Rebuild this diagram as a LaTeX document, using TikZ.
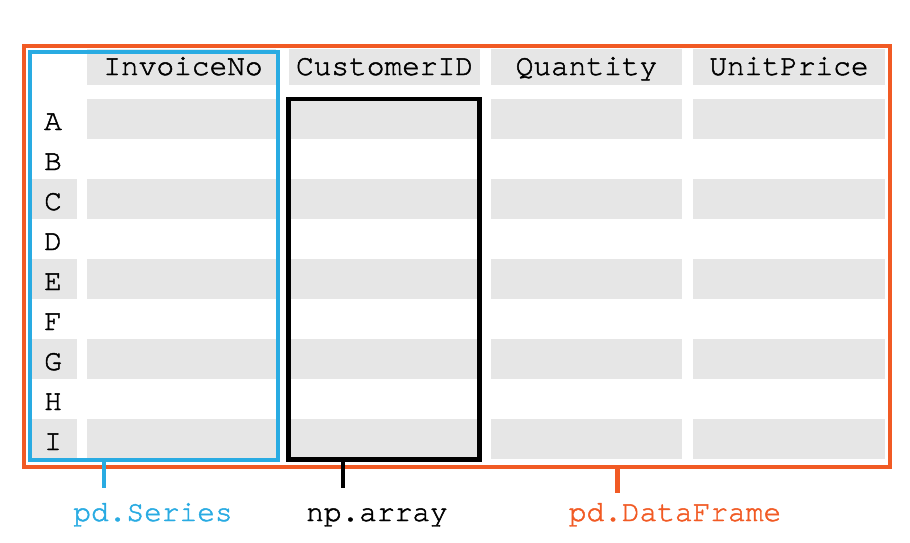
\documentclass[tikz,border=0pt]{standalone}
\usepackage{fontspec}
\newfontfamily\courfont[FakeBold=1.6]{TeX Gyre Cursor}
\definecolor{serblue}{RGB}{41,171,226}
\definecolor{dforange}{RGB}{241,90,36}
\definecolor{cellgray}{RGB}{230,230,230}
\begin{document}
\begin{tikzpicture}[x=1pt,y=-1pt,
  txt/.style={font=\courfont\fontsize{29.5}{34}\selectfont, inner sep=0pt, anchor=base},
  frame/.style={inner sep=0pt, fill=none},
  tick/.style={line width=4.5pt}]
\useasboundingbox (0,0) rectangle (910,543);
% gray cells
\foreach \xa/\xb in {87/276, 289/480, 491/682, 693/885} {
  \fill[cellgray] (\xa,49) rectangle (\xb,85);
  \foreach \r in {0,2,4,6,8}
    \fill[cellgray] (\xa,{99+40*\r}) rectangle (\xb,{139+40*\r});
}
\foreach \r in {2,4,6,8}
  \fill[cellgray] (30,{99+40*\r}) rectangle (77,{139+40*\r});
% headers
\node[txt] (hInv) at (183,75) {InvoiceNo};
\node[txt] (hCus) at (384.5,75) {CustomerID};
\node[txt] (hQty) at (586.5,75) {Quantity};
\node[txt] (hUnit) at (789,75) {UnitPrice};
% row labels
\foreach \l [count=\i from 0] in {A,B,C,D,E,F,G,H,I}
  \node[txt] (r\l) at (53,{130+40*\i}) {\l};
% frames
\node[frame, draw=black, line width=4.5pt, minimum width=191pt, minimum height=360.5pt] (arr) at (384,279.25) {};
\node[frame, draw=serblue, line width=4pt, minimum width=248pt, minimum height=407.5pt] (ser) at (154,255.75) {};
\node[frame, draw=dforange, line width=4pt, minimum width=866pt, minimum height=421pt] (df) at (457,256.5) {};
% labels
\node[txt, text=serblue] (lS) at (153,521) {pd.Series};
\node[txt, text=black] (lA) at (377,521) {np.array};
\node[txt, text=dforange] (lD) at (675,521) {pd.DataFrame};
% ticks
\coordinate (tS) at (103.5,488);
\coordinate (tA) at (343,488);
\coordinate (tD) at (617.5,493);
\draw[tick, serblue, line width=4pt] (ser.south -| tS) -- (tS);
\draw[tick, black] (arr.south -| tA) -- (tA);
\draw[tick, dforange] (df.south -| tD) -- (tD);
\end{tikzpicture}
\end{document}
